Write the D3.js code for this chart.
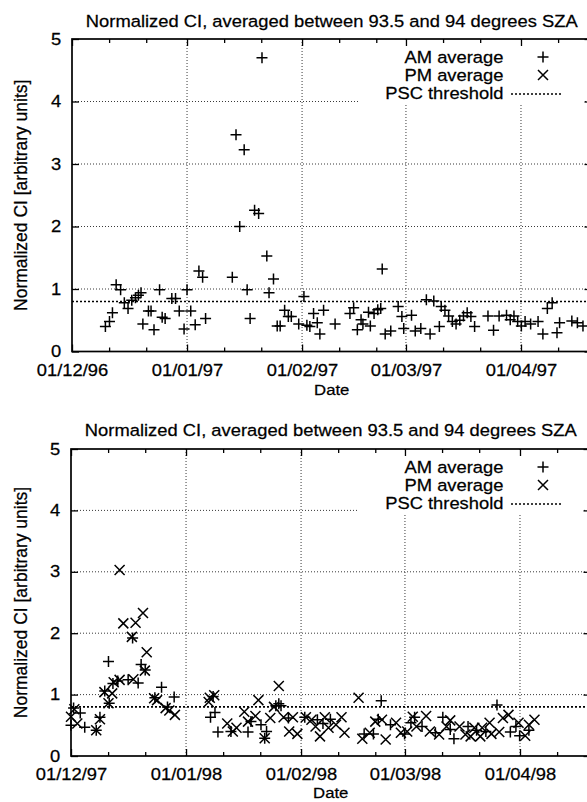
<!DOCTYPE html>
<html>
<head>
<meta charset="utf-8">
<script src="https://cdn.jsdelivr.net/npm/d3@7"></script>
<style>
  body { margin: 0; background: #fff; }
  svg { display: block; }
</style>
</head>
<body>
<div class="canvas"></div>
<script>
// [days since 1 December, normalized CI]
const am9697 = [
  [9.0,0.40],[10.1,0.48],[10.9,0.62],[11.9,1.07],[13.1,0.99],[14.1,0.78],[15.1,0.69],[16.1,0.82],[17.1,0.86],[17.9,0.90],
  [18.6,0.94],[19.1,0.44],[20.6,0.65],[21.3,0.65],[22.1,0.35],[23.6,0.99],[24.3,0.55],[25.1,0.53],[26.9,0.85],[27.9,0.85],
  [28.9,0.65],[30.2,0.36],[31.0,0.99],[32.0,0.65],[33.2,0.43],[34.2,1.29],[35.2,1.19],[36.0,0.53],[43.2,1.19],[44.2,3.47],
  [45.2,2.00],[46.4,3.23],[47.2,0.99],[48.0,0.53],[49.2,2.26],[50.3,2.21],[51.2,4.70],[52.5,1.53],[53.1,0.94],[54.3,1.16],
  [55.3,0.41],[56.1,0.41],[57.3,0.66],[58.3,0.56],[59.1,0.56],[61.1,0.44],[62.5,0.88],[63.3,0.42],[64.1,0.40],[65.1,0.61],
  [66.1,0.46],[66.8,0.28],[67.8,0.66],[70.9,0.44],[74.9,0.61],[75.9,0.70],[76.9,0.35],[77.9,0.51],[78.4,0.44],[79.9,0.63],
  [80.4,0.41],[81.4,0.61],[82.4,0.67],[83.2,0.69],[83.6,1.32],[84.4,0.28],[85.9,0.33],[87.9,0.72],[88.9,0.56],[89.4,0.37],
  [91.5,0.58],[92.5,0.33],[94.0,0.37],[95.5,0.83],[96.5,0.28],[97.5,0.81],[99.0,0.40],[99.5,0.72],[100.5,0.66],[101.5,0.57],
  [102.5,0.48],[103.5,0.44],[104.5,0.50],[105.5,0.57],[106.5,0.62],[107.5,0.56],[108.5,0.40],[112.1,0.57],[113.6,0.34],[115.1,0.57],
  [117.1,0.58],[118.1,0.51],[119.1,0.57],[120.1,0.48],[121.1,0.41],[122.1,0.48],[123.6,0.44],[125.6,0.48],[126.9,0.28],[128.1,0.69],
  [129.4,0.78],[130.7,0.30],[131.4,0.46],[134.7,0.49],[136.2,0.46],[137.7,0.41]
];
const pm9697 = [];

const am9798 = [
  [0.0,0.50],[0.7,0.78],[2.5,0.70],[3.7,0.47],[6.8,0.42],[7.8,0.63],[9.1,1.06],[10.1,1.54],[10.3,0.86],[11.3,1.18],
  [12.6,1.22],[15.4,1.24],[16.6,1.92],[18.1,1.19],[18.9,1.49],[20.0,1.40],[22.6,0.95],[24.4,1.12],[26.0,0.80],[27.8,0.96],
  [37.6,0.63],[38.3,0.97],[38.8,0.71],[39.6,0.39],[43.1,0.40],[47.7,0.39],[48.5,0.56],[51.2,0.51],[52.2,0.29],[52.7,0.40],
  [55.2,0.82],[56.0,0.85],[56.6,0.82],[58.6,0.62],[63.0,0.63],[66.4,0.59],[67.9,0.53],[69.9,0.60],[79.0,0.36],[81.5,0.36],
  [82.8,0.60],[83.6,0.90],[86.1,0.51],[89.9,0.36],[91.6,0.54],[92.6,0.63],[94.6,0.48],[98.2,0.38],[100.2,0.63],[102.2,0.43],
  [103.2,0.28],[107.0,0.48],[109.3,0.42],[111.8,0.40],[114.8,0.83],[118.4,0.39],[119.9,0.48],[120.9,0.33],[123.4,0.42]
];
const pm9798 = [
  [0.0,0.64],[0.9,0.76],[1.7,0.53],[6.8,0.42],[7.8,0.60],[9.0,1.04],[10.1,0.86],[11.1,1.02],[11.5,1.20],[13.1,1.24],
  [13.1,3.03],[14.1,2.16],[16.4,1.94],[16.8,1.25],[17.4,2.17],[19.4,2.33],[19.9,1.39],[20.4,1.69],[22.4,0.94],[23.2,0.91],
  [25.5,0.78],[26.5,0.74],[28.0,0.67],[37.1,0.88],[37.4,0.95],[38.6,0.99],[42.1,0.53],[43.6,0.40],[44.6,0.46],[46.7,0.72],
  [47.7,0.56],[49.7,0.65],[50.5,0.91],[52.2,0.29],[53.7,0.62],[54.7,0.80],[56.0,1.14],[57.3,0.63],[58.8,0.40],[59.8,0.63],
  [61.0,0.36],[63.3,0.63],[64.8,0.59],[65.9,0.48],[67.1,0.32],[68.4,0.63],[69.4,0.46],[71.4,0.51],[72.9,0.63],[73.7,0.38],
  [77.5,0.95],[78.5,0.28],[80.5,0.38],[82.0,0.56],[83.8,0.59],[84.8,0.27],[87.6,0.54],[88.9,0.38],[90.6,0.40],[92.1,0.64],
  [93.1,0.48],[95.7,0.65],[96.7,0.40],[99.2,0.35],[101.2,0.48],[102.2,0.58],[104.7,0.48],[106.3,0.35],[107.7,0.32],[108.7,0.46],
  [110.3,0.32],[110.8,0.46],[112.8,0.54],[113.3,0.36],[115.4,0.39],[116.4,0.62],[117.9,0.67],[120.6,0.54],[122.4,0.33],[123.4,0.51],
  [124.9,0.59]
];

const yTicks = [0, 1, 2, 3, 4, 5];
const pscThreshold = 0.8;
const titleText = "Normalized CI, averaged between 93.5 and 94 degrees SZA";
const legendLabels = ["AM average", "PM average", "PSC threshold"];

const width = 587, height = 802;
const stretch = 1.08; // the scan is a little wider than tall
const fontSize = 17;

const svg = d3.select('.canvas')
  .append('svg')
  .attr('width', width)
  .attr('height', height)
  .attr('viewBox', [0, 0, width, height])
  .style('font-family', "'Liberation Sans', Arial, Helvetica, sans-serif");

const plus = s => `M${-s},0H${s}M0,${-s}V${s}`;
const cross = s => `M${-s},${-s}L${s},${s}M${-s},${s}L${s},${-s}`;

const panels = [
  { start: Date.UTC(1996, 11, 1), am: am9697, pm: pm9697, left: 72, right: 591.5, top: 39, bottom: 351.5, titleY: 27, tickY: 376.5, dateY: 395 },
  { start: Date.UTC(1997, 11, 1), am: am9798, pm: pm9798, left: 71, right: 590.5, top: 449, bottom: 756, titleY: 436, tickY: 780.5, dateY: 798.3 }
];

function hText(g, x, y, str, anchor, size) {
  return g.append('text')
    .attr('transform', `translate(${x},${y}) scale(${stretch},1)`)
    .attr('text-anchor', anchor || 'middle')
    .attr('font-size', size || fontSize)
    .attr('fill', '#000')
    .attr('stroke', '#000').attr('stroke-width', 0.25)
    .text(str);
}

panels.forEach(p => {
  const start = new Date(p.start);
  const x = d3.scaleUtc()
    .domain([start, d3.utcDay.offset(start, 140)])
    .range([p.left, p.right]);
  const y = d3.scaleLinear().domain([0, 5]).range([p.bottom, p.top]);
  const toDate = d => new Date(p.start + d * 864e5);

  const months = x.ticks(d3.utcMonth.every(1));
  const minor = x.ticks(d3.utcDay.every(10)).filter(d => d.getUTCDate() === 11 || d.getUTCDate() === 21);

  const g = svg.append('g');

  // grid
  g.append('g').selectAll('line')
    .data(months.filter(d => +d !== +start))
    .join('line')
    .attr('x1', d => x(d)).attr('x2', d => x(d))
    .attr('y1', p.top).attr('y2', p.bottom)
    .attr('stroke', '#222').attr('stroke-width', 0.9).attr('stroke-dasharray', '1,2');
  g.append('g').selectAll('line')
    .data(yTicks.filter(v => v > 0 && v < 5))
    .join('line')
    .attr('x1', p.left).attr('x2', p.right)
    .attr('y1', d => y(d)).attr('y2', d => y(d))
    .attr('stroke', '#222').attr('stroke-width', 0.9).attr('stroke-dasharray', '1,2');

  // opaque key box
  g.append('rect')
    .attr('x', 358).attr('y', p.top + 1)
    .attr('width', 225).attr('height', y(4) - p.top + 2)
    .attr('fill', '#fff');

  // threshold
  g.append('line')
    .attr('x1', p.left).attr('x2', p.right)
    .attr('y1', y(pscThreshold)).attr('y2', y(pscThreshold))
    .attr('stroke', '#000').attr('stroke-width', 1.6).attr('stroke-dasharray', '2,2');

  // axes, ticks pointing inward
  const bottomAxis = g.append('g')
    .attr('transform', `translate(0,${p.bottom})`)
    .call(d3.axisBottom(x).tickValues(months).tickFormat(d3.utcFormat('%d/%m/%y')).tickSizeInner(-7).tickSizeOuter(0));
  bottomAxis.selectAll('text')
    .attr('y', p.tickY - p.bottom).attr('dy', null)
    .attr('transform', `scale(${stretch},1)`)
    .attr('font-size', fontSize).attr('fill', '#000')
    .attr('stroke', '#000').attr('stroke-width', 0.25);
  g.append('g')
    .attr('transform', `translate(0,${p.bottom})`)
    .call(d3.axisBottom(x).tickValues(minor).tickFormat('').tickSizeInner(-4).tickSizeOuter(0));
  g.append('g')
    .attr('transform', `translate(0,${p.top})`)
    .call(d3.axisTop(x).tickValues(months).tickFormat('').tickSizeInner(-7).tickSizeOuter(0));
  g.append('g')
    .attr('transform', `translate(0,${p.top})`)
    .call(d3.axisTop(x).tickValues(minor).tickFormat('').tickSizeInner(-4).tickSizeOuter(0));
  const leftAxis = g.append('g')
    .attr('transform', `translate(${p.left},0)`)
    .call(d3.axisLeft(y).tickValues(yTicks).tickFormat(d3.format('d')).tickSizeInner(-7).tickSizeOuter(0));
  leftAxis.selectAll('text')
    .attr('x', -10).attr('dy', '0.3em')
    .attr('transform', `scale(${stretch},1)`)
    .attr('font-size', fontSize).attr('fill', '#000')
    .attr('stroke', '#000').attr('stroke-width', 0.25);
  g.append('g')
    .attr('transform', `translate(${p.right},0)`)
    .call(d3.axisRight(y).tickValues(yTicks).tickFormat('').tickSizeInner(-7).tickSizeOuter(0));
  g.selectAll('.domain').remove();
  g.selectAll('.tick line').attr('stroke', '#000').attr('stroke-width', 1.3);

  g.append('rect')
    .attr('x', p.left).attr('y', p.top)
    .attr('width', p.right - p.left).attr('height', p.bottom - p.top)
    .attr('fill', 'none').attr('stroke', '#000').attr('stroke-width', 1.7);

  // titles
  hText(g, (p.left + p.right) / 2, p.titleY, titleText);
  hText(g, (p.left + p.right) / 2, p.dateY, 'Date', 'middle', 15.5);
  g.append('text')
    .attr('transform', `translate(27,${(p.top + p.bottom) / 2}) scale(${stretch},1) rotate(-90)`)
    .attr('text-anchor', 'middle')
    .attr('font-size', 17.5)
    .attr('stroke', '#000').attr('stroke-width', 0.25)
    .text('Normalized CI [arbitrary units]');

  // key
  const rows = legendLabels.map((d, i) => p.top + 18 + i * 18);
  legendLabels.forEach((d, i) => hText(g, 503.5, rows[i], d, 'end').attr('dy', '0.36em'));
  g.append('path').attr('transform', `translate(543,${rows[0]})`).attr('d', plus(5.5))
    .attr('stroke', '#000').attr('stroke-width', 1.5).attr('fill', 'none');
  g.append('path').attr('transform', `translate(543,${rows[1]})`).attr('d', cross(5))
    .attr('stroke', '#000').attr('stroke-width', 1.5).attr('fill', 'none');
  g.append('line')
    .attr('x1', 511).attr('x2', 563).attr('y1', rows[2] + 1).attr('y2', rows[2] + 1)
    .attr('stroke', '#000').attr('stroke-width', 1.6).attr('stroke-dasharray', '2,2');

  // points
  g.append('g').selectAll('path')
    .data(p.am)
    .join('path')
    .attr('transform', d => `translate(${x(toDate(d[0]))},${y(d[1])})`)
    .attr('d', plus(5.5))
    .attr('stroke', '#000').attr('stroke-width', 1.5).attr('fill', 'none');
  g.append('g').selectAll('path')
    .data(p.pm)
    .join('path')
    .attr('transform', d => `translate(${x(toDate(d[0]))},${y(d[1])})`)
    .attr('d', cross(5))
    .attr('stroke', '#000').attr('stroke-width', 1.5).attr('fill', 'none');
});
</script>
</body>
</html>
